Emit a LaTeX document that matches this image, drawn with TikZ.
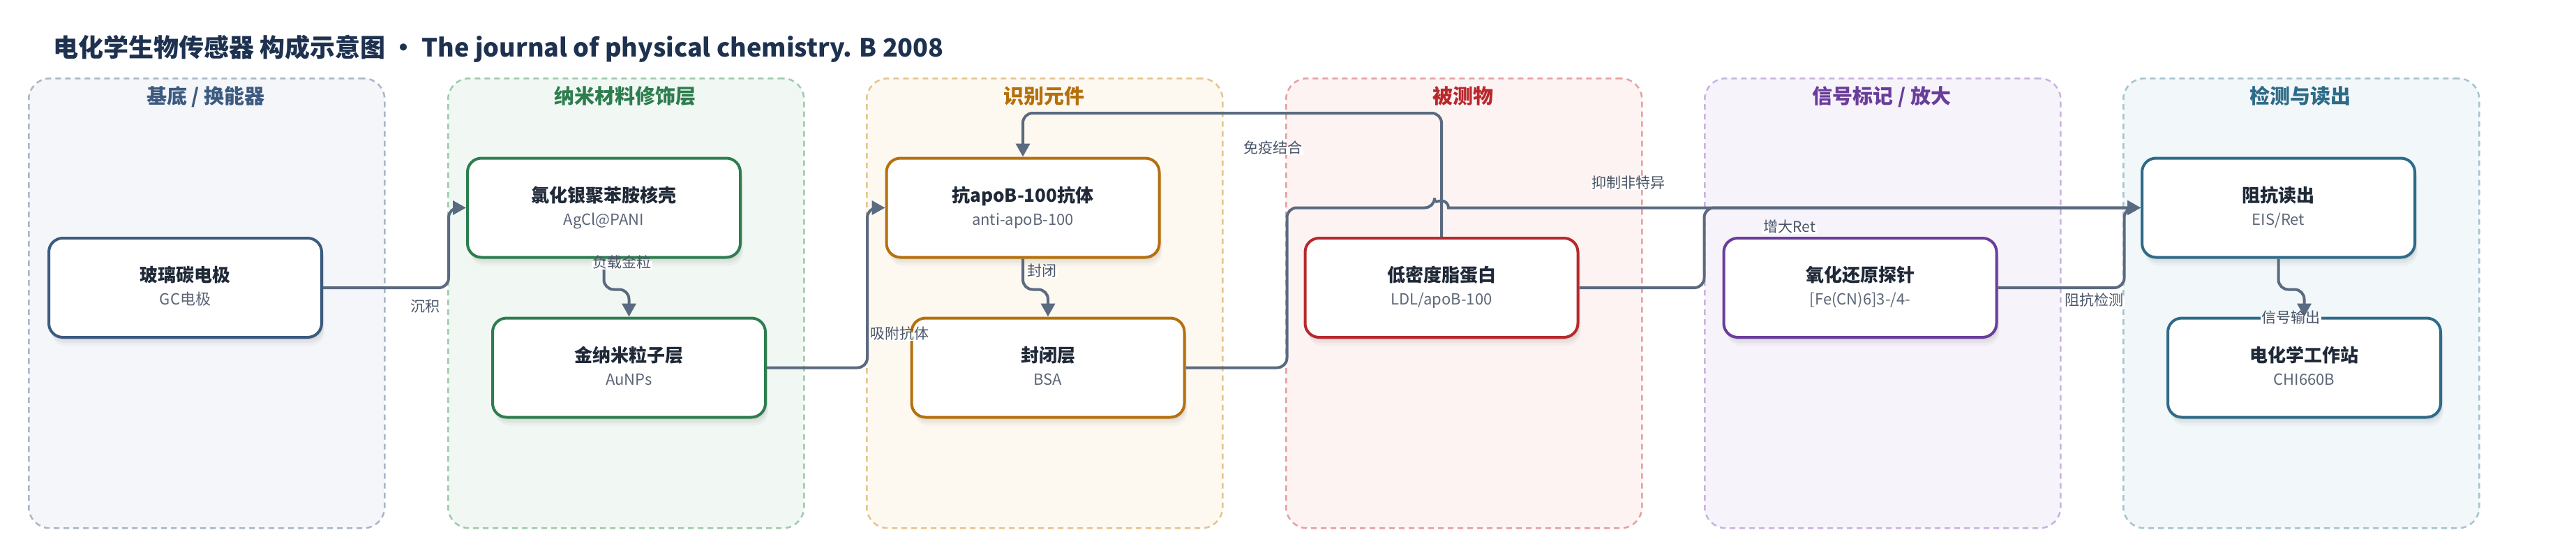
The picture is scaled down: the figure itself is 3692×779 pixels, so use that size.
\documentclass[tikz,border=0pt]{standalone}
\usepackage{fontspec}
\setmainfont{Noto Sans CJK SC}
\usetikzlibrary{shadows,calc,arrows.meta}

\definecolor{edgec}{HTML}{5A6A80}
\definecolor{titlec}{HTML}{1E3250}
\definecolor{ntext}{HTML}{1F2937}
\definecolor{stext}{HTML}{5B6677}
\definecolor{ltext}{HTML}{4A5568}
% lanes
\definecolor{laA}{HTML}{3D5A80}\definecolor{lfA}{HTML}{F4F6FA}\definecolor{lbA}{HTML}{AAB6C9}
\definecolor{laB}{HTML}{2E7D4F}\definecolor{lfB}{HTML}{F1F8F3}\definecolor{lbB}{HTML}{9FCAAD}
\definecolor{laC}{HTML}{B5700D}\definecolor{lfC}{HTML}{FEF9F0}\definecolor{lbC}{HTML}{E5C48E}
\definecolor{laD}{HTML}{B8282C}\definecolor{lfD}{HTML}{FDF3F3}\definecolor{lbD}{HTML}{E6A1A1}
\definecolor{laE}{HTML}{6A3D9A}\definecolor{lfE}{HTML}{F7F3FB}\definecolor{lbE}{HTML}{C9B3E0}
\definecolor{laF}{HTML}{2E6B88}\definecolor{lfF}{HTML}{F2F7F9}\definecolor{lbF}{HTML}{A5C4D2}

\tikzset{
  lanebox/.style={rectangle, rounded corners=30pt, line width=2.5pt, dash pattern=on 8pt off 6pt,
    minimum width=510pt, minimum height=644pt, anchor=north west, inner sep=0pt},
  lanetitle/.style={font=\fontsize{29}{32}\selectfont\bfseries, text height=0.8em, text depth=0.1em, inner sep=0pt},
  nbox/.style={rectangle, rounded corners=20pt, line width=4pt, fill=white,
    minimum width=391pt, minimum height=142pt, inner sep=0pt,
    general shadow={fill=black, opacity=0.05, shadow xshift=2pt, shadow yshift=-4pt},
    general shadow={fill=black, opacity=0.04, shadow xshift=3pt, shadow yshift=-8pt},
    general shadow={fill=black, opacity=0.03, shadow xshift=4pt, shadow yshift=-12pt}},
  ntitle/.style={font=\fontsize{26}{30}\selectfont\bfseries, text=ntext, text height=0.8em, text depth=0.1em, inner sep=0pt},
  nsub/.style={font=\fontsize{22}{26}\selectfont, text=stext, text height=0.8em, text depth=0.1em, inner sep=0pt},
  edge/.style={draw=edgec, line width=4pt, rounded corners=14pt, -{Triangle[length=19pt,width=20pt]}},
  elabel/.style={font=\fontsize{21}{24}\selectfont, text=ltext, fill=white, inner sep=1.5pt, text height=0.8em, text depth=0.15em},
}

\newcommand\drawnode[6]{%
  \node[nbox, draw=#4] (#1) at (#2,#3) {};
  \node[ntitle] (#1-t) at ($(#1.center)+(0,-12)$) {#5};
  \node[nsub] (#1-s) at ($(#1.center)+(0,21)$) {#6};
}

\begin{document}
\begin{tikzpicture}[x=1pt,y=-1pt]
\useasboundingbox (0,0) rectangle (3692,779);
\fill[white] (0,0) rectangle (3692,779);

% title
\node[anchor=west, inner sep=0pt, text=titlec, font=\fontsize{36}{40}\selectfont\bfseries, text height=0.8em, text depth=0.1em]
  (title) at (76,78) {电化学生物传感器 构成示意图 • The journal of physical chemistry. B 2008};

% lanes
\node[lanebox, draw=lbA, fill=lfA] (laneA) at (40,111) {};
\node[lanebox, draw=lbB, fill=lfB] (laneB) at (641,111) {};
\node[lanebox, draw=lbC, fill=lfC] (laneC) at (1241,111) {};
\node[lanebox, draw=lbD, fill=lfD] (laneD) at (1842,111) {};
\node[lanebox, draw=lbE, fill=lfE] (laneE) at (2442,111) {};
\node[lanebox, draw=lbF, fill=lfF] (laneF) at (3042,111) {};

\node[lanetitle, text=laA] (laneA-t) at (295,145) {基底 / 换能器};
\node[lanetitle, text=laB] (laneB-t) at (896,145) {纳米材料修饰层};
\node[lanetitle, text=laC] (laneC-t) at (1496,145) {识别元件};
\node[lanetitle, text=laD] (laneD-t) at (2097,145) {被测物};
\node[lanetitle, text=laE] (laneE-t) at (2697,145) {信号标记 / 放大};
\node[lanetitle, text=laF] (laneF-t) at (3297,145) {检测与读出};

% nodes
\drawnode{gc}{265.5}{412}{laA}{玻璃碳电极}{GC电极}
\drawnode{agcl}{865.5}{297.5}{laB}{氯化银聚苯胺核壳}{AgCl@PANI}
\drawnode{aunp}{901.5}{526.5}{laB}{金纳米粒子层}{AuNPs}
\drawnode{ab}{1466}{297.5}{laC}{抗apoB-100抗体}{anti-apoB-100}
\drawnode{bsa}{1502}{526.5}{laC}{封闭层}{BSA}
\drawnode{ldl}{2066}{412}{laD}{低密度脂蛋白}{LDL/apoB-100}
\drawnode{probe}{2666}{412}{laE}{氧化还原探针}{[Fe(CN)6]3-/4-}
\drawnode{imp}{3265.5}{297.5}{laF}{阻抗读出}{EIS/Ret}
\drawnode{chi}{3302.5}{526.5}{laF}{电化学工作站}{CHI660B}

% edges
\draw[edge] (gc.east) -- ++(180,0) |- (agcl.west);
\draw[edge] (agcl.south) -- ++(0,44) -| (aunp.north);
\draw[edge] (aunp.east) -- ++(144,0) |- (ab.west);
\draw[edge] (ab.south) -- ++(0,44) -| (bsa.north);
\draw[edge] (ldl.north) -- ++(0,-177) -| (ab.north);
\coordinate (hopL) at ($(ldl.north |- imp.west)+(-10,0)$);
\draw[edge] (bsa.east) -- ++(145,0) |- (hopL) [sharp corners] arc[start angle=180, end angle=0, radius=10pt] -- (imp.west);
\draw[edge] (ldl.east) -- ++(179,0) |- (imp.west);
\draw[edge] (probe.east) -- ++(181,0) |- (imp.west);
\draw[edge] (imp.south) -- ++(0,44) -| (chi.north);

% edge labels
\node[elabel] (l1) at (609,443) {沉积};
\node[elabel] (l2) at (891,380) {负载金粒};
\node[elabel] (l3) at (1289,482) {吸附抗体};
\node[elabel] (l4) at (1493,392) {封闭};
\node[elabel] (l5) at (1824,216) {免疫结合};
\node[elabel] (l6) at (2334,266) {抑制非特异};
\node[elabel] (l7) at (2565,329) {增大Ret};
\node[elabel] (l8) at (3001,434) {阻抗检测};
\node[elabel] (l9) at (3283,459) {信号输出};
\end{tikzpicture}
\end{document}
